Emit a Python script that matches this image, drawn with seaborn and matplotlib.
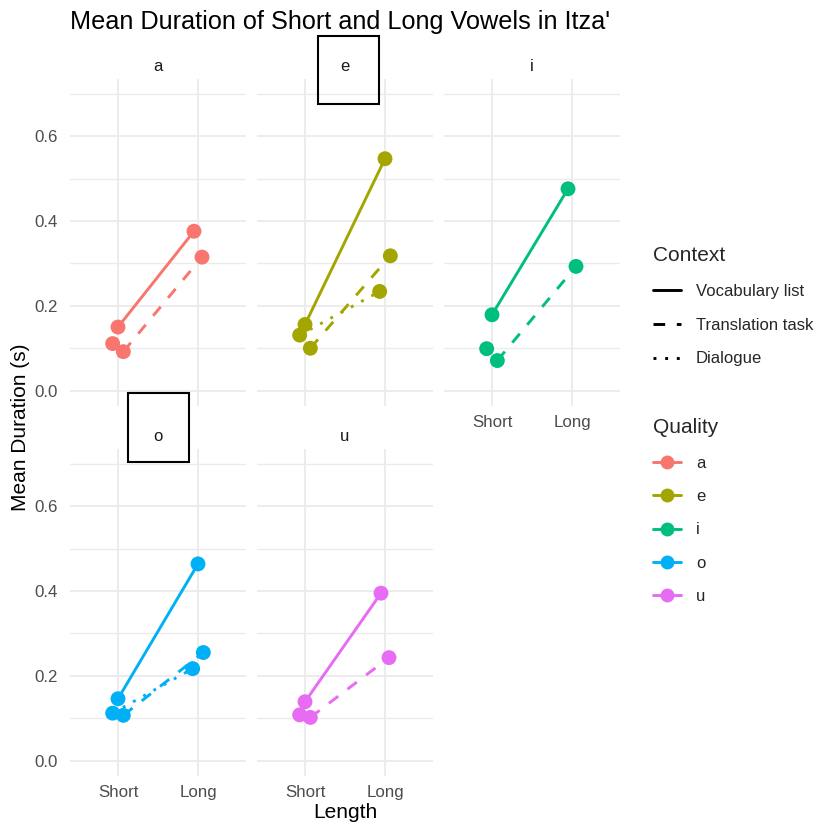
import numpy as np
import pandas as pd
import matplotlib
matplotlib.use("Agg")
import matplotlib.pyplot as plt
import seaborn as sns
from matplotlib.lines import Line2D
from matplotlib.patches import Rectangle

# ---------------- data ----------------
qualities = ['a', 'e', 'i', 'o', 'u']
lengths = ['Short', 'Long']
contexts = ['Vocabulary list', 'Translation task', 'Dialogue']

vocab_short = [0.150, 0.156, 0.179, 0.146, 0.139]
vocab_long = [0.376, 0.547, 0.476, 0.464, 0.395]
trans_short = [0.092, 0.100, 0.071, 0.107, 0.102]
trans_long = [0.315, 0.318, 0.293, 0.255, 0.243]
dial_short = [0.111, 0.131, 0.099, 0.112, 0.108]
dial_long = [np.nan, 0.234, np.nan, 0.217, np.nan]

quality_colors = ['#F8766D', '#A3A500', '#00BF7D', '#00B0F6', '#E76BF3']
y_ticks = [0.0, 0.2, 0.4, 0.6]

series = {
    ('Vocabulary list', 'Short'): vocab_short,
    ('Vocabulary list', 'Long'): vocab_long,
    ('Translation task', 'Short'): trans_short,
    ('Translation task', 'Long'): trans_long,
    ('Dialogue', 'Short'): dial_short,
    ('Dialogue', 'Long'): dial_long,
}
rows = []
for (ctx, ln), vals in series.items():
    for q, v in zip(qualities, vals):
        rows.append(dict(Quality=q, Length=ln, Context=ctx, Duration=v))
df = pd.DataFrame(rows).dropna()

# position dodge (like ggplot position_dodge(width=0.2))
dodge_order = {'Dialogue': 0, 'Vocabulary list': 1, 'Translation task': 2}
dodge_width = 0.2
df['dord'] = df['Context'].map(dodge_order)
df['rank'] = df.groupby(['Quality', 'Length'])['dord'].rank(method='first') - 1
df['n'] = df.groupby(['Quality', 'Length'])['dord'].transform('size')
df['xpos'] = df['Length'].map({l: i for i, l in enumerate(lengths)}) + \
    (df['rank'] - (df['n'] - 1) / 2) * dodge_width / df['n']

# ---------------- style ----------------
sns.set_theme(style='white')
plt.rcParams['font.family'] = ['Liberation Sans', 'DejaVu Sans']

palette = dict(zip(qualities, quality_colors))
dashes = {'Vocabulary list': '', 'Translation task': (4, 4), 'Dialogue': (1, 3)}
LW = 2.1
grid_col = '#EBEBEB'

W, H = 830, 834
fig = plt.figure(figsize=(W / 100, H / 100), dpi=100)
fig.patch.set_facecolor('white')

col_left = [70, 257, 444]
row_top = [79, 449]
pw, ph = 176, 326.5
layout = {'a': (0, 0), 'e': (0, 1), 'i': (0, 2), 'o': (1, 0), 'u': (1, 1)}
bottom_row = {'i', 'o', 'u'}

for q in qualities:
    r, c = layout[q]
    ax = fig.add_axes([col_left[c] / W, 1 - (row_top[r] + ph) / H, pw / W, ph / H])
    sub = df[df['Quality'] == q]
    sns.lineplot(data=sub, x='xpos', y='Duration', hue='Quality', style='Context',
                 palette=palette, dashes=dashes, style_order=contexts,
                 estimator=None, sort=True, linewidth=LW, legend=False, ax=ax, zorder=2)
    sns.scatterplot(data=sub, x='xpos', y='Duration', hue='Quality', palette=palette,
                    s=115, linewidth=0, legend=False, ax=ax, zorder=3)
    ax.set_xlim(-0.6, 1.6)
    ax.set_ylim(-0.035, 0.735)
    ax.set_xticks(range(len(lengths)))
    ax.set_yticks(y_ticks)
    ax.set_yticks([0.1, 0.3, 0.5, 0.7], minor=True)
    ax.grid(True, which='major', color=grid_col, linewidth=1.3)
    ax.grid(True, which='minor', axis='y', color=grid_col, linewidth=1.0)
    ax.set_axisbelow(True)
    for s in ax.spines.values():
        s.set_visible(False)
    ax.tick_params(length=0, which='both')
    if q in bottom_row:
        ax.set_xticklabels(lengths, fontsize=12.2, color='#4D4D4D')
        ax.tick_params(axis='x', pad=7)
    else:
        ax.set_xticklabels([])
    if c == 0:
        ax.set_yticklabels([f'{t:.1f}' for t in y_ticks], fontsize=12.2, color='#4D4D4D')
        ax.tick_params(axis='y', pad=9)
    else:
        ax.set_yticklabels([])
    ax.set_xlabel('')
    ax.set_ylabel('')
    ax.set_title(q, fontsize=12, color='#1A1A1A', pad=6)

# framed strip boxes as in reference
for (x0, y0, x1, y1) in [(318, 36, 379, 104), (128, 393, 189, 462)]:
    fig.patches.append(Rectangle((x0 / W, 1 - y1 / H), (x1 - x0) / W, (y1 - y0) / H,
                                 transform=fig.transFigure, fill=False,
                                 edgecolor='black', linewidth=1.5, zorder=10))

fig.text(70 / W, 1 - 22 / H, "Mean Duration of Short and Long Vowels in Itza'",
         fontsize=18.2, color='black', ha='left', va='center')
fig.text(345 / W, 1 - 813 / H, 'Length', fontsize=15, color='black', ha='center', va='center')
fig.text(21 / W, 1 - 427 / H, 'Mean Duration (s)', fontsize=15, color='black',
         ha='center', va='center', rotation=90)

# legends
ctx_handles = [Line2D([], [], color='black', linewidth=LW, linestyle='-'),
               Line2D([], [], color='black', linewidth=LW, dashes=dashes['Translation task']),
               Line2D([], [], color='black', linewidth=LW, dashes=dashes['Dialogue'])]
leg1 = fig.legend(ctx_handles, contexts, title='Context', loc='upper left',
                  bbox_to_anchor=(645 / W, 1 - 238 / H), frameon=False,
                  fontsize=12, title_fontsize=15, handlelength=1.65,
                  handletextpad=0.9, labelspacing=1.12, borderpad=0,
                  alignment='left')
q_handles = [Line2D([], [], color=palette[q], linewidth=LW, marker='o',
                    markersize=10, markeredgewidth=0) for q in qualities]
leg2 = fig.legend(q_handles, qualities, title='Quality', loc='upper left',
                  bbox_to_anchor=(645 / W, 1 - 410 / H), frameon=False,
                  fontsize=12, title_fontsize=15, handlelength=1.65,
                  handletextpad=0.9, labelspacing=1.1, borderpad=0,
                  alignment='left')

fig.savefig('out.png', dpi=100, facecolor='white')
